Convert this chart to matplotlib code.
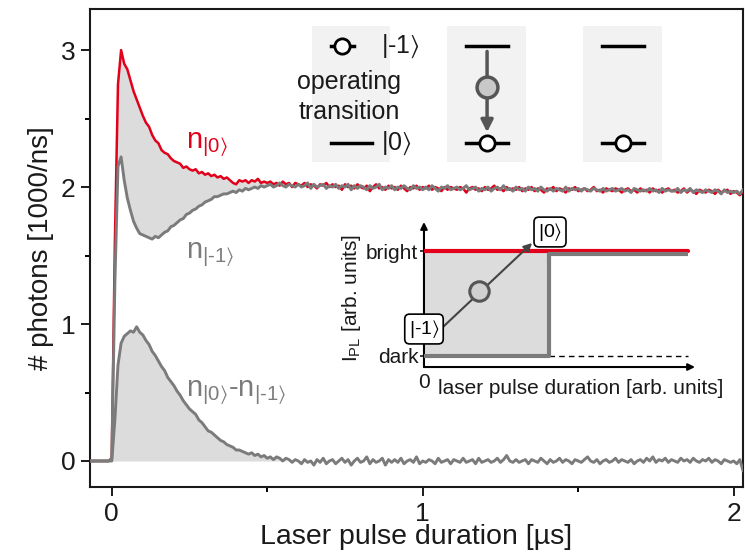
import numpy as np
import matplotlib
matplotlib.use("Agg")
import matplotlib.pyplot as plt
from matplotlib.patches import Rectangle

plt.rcParams['font.family'] = ['Liberation Sans', 'DejaVu Sans']
plt.rcParams['mathtext.fontset'] = 'custom'
plt.rcParams['mathtext.rm'] = 'Liberation Sans'
plt.rcParams['mathtext.default'] = 'regular'

# time axis, 10 ns steps from -0.07 to 2.03 us
t = np.round(np.arange(211) * 0.01 - 0.07, 2)

# photon rate after preparation in |0>  (red)
n0 = [0, 0, 0, 0, 0, 0, 0,
      0.02, 1.60, 2.75, 3.00, 2.90, 2.86, 2.78, 2.70, 2.64, 2.58,
      2.52, 2.47, 2.44, 2.38, 2.34, 2.32, 2.27, 2.25, 2.24, 2.21,
      2.19, 2.18, 2.17, 2.14, 2.15, 2.13, 2.12, 2.13, 2.10, 2.11,
      2.09, 2.10, 2.08, 2.09, 2.07, 2.08, 2.06, 2.07, 2.05, 2.03,
      2.02, 2.05, 2.04, 2.05, 2.03, 2.05, 2.04, 2.06, 2.03, 2.04, 2.03,
      2.04, 2.02, 2.03, 2.01, 2.04, 2.02, 2.03, 2.00, 2.03, 2.02,
      2.01, 2.03, 2.00, 2.02, 2.01, 1.99, 2.02, 2.01, 2.03, 2.00,
      2.02, 2.00, 2.01, 1.98, 2.02, 2.00, 2.01, 1.99, 2.02, 2.00,
      1.99, 2.01, 1.97, 2.00, 2.02, 1.99, 2.00, 1.98, 2.01, 1.99,
      2.00, 1.98, 2.01, 1.99, 1.97, 2.00, 1.99, 2.01, 1.98, 2.00,
      1.99, 2.01, 1.98, 2.00, 1.99, 1.97, 2.00, 1.98, 2.00, 1.99,
      1.98, 2.00, 1.99, 1.96, 1.99, 2.00, 1.98, 1.99, 1.97, 2.00,
      1.98, 1.99, 2.01, 1.98, 1.99, 1.97, 2.00, 1.98, 1.99, 1.98,
      2.00, 1.97, 1.99, 1.98, 2.00, 1.97, 1.99, 1.98, 1.96, 1.99,
      1.98, 2.00, 1.97, 1.99, 1.98, 1.96, 1.99, 1.98, 2.00, 1.97,
      1.98, 1.99, 1.97, 1.98, 2.00, 1.97, 1.98, 1.96, 1.99, 1.98,
      1.97, 1.99, 1.98, 1.96, 1.98, 1.99, 1.97, 1.98, 1.96, 1.99,
      1.97, 1.98, 1.96, 1.99, 1.97, 1.98, 1.96, 1.98, 1.99, 1.97,
      1.98, 1.96, 1.97, 1.99, 1.96, 1.98, 1.97, 1.95, 1.98, 1.97,
      1.96, 1.98, 1.97, 1.95, 1.98, 1.96, 1.97, 1.98, 1.95, 1.97,
      1.96, 1.94, 1.97]

# photon rate after preparation in |-1>  (grey)
n1 = [0, 0, 0, 0, 0, 0, 0,
      0.02, 1.30, 2.15, 2.22, 2.05, 1.92, 1.83, 1.75, 1.70, 1.66,
      1.65, 1.64, 1.63, 1.62, 1.64, 1.63, 1.65, 1.67, 1.68, 1.71,
      1.72, 1.74, 1.76, 1.77, 1.80, 1.81, 1.83, 1.84, 1.86, 1.87,
      1.89, 1.90, 1.91, 1.93, 1.93, 1.94, 1.95, 1.95, 1.96, 1.97,
      1.96, 1.98, 1.97, 1.99, 1.98, 1.99, 2.00, 1.99, 2.01, 2.00, 2.01,
      2.02, 2.00, 2.01, 2.03, 2.01, 2.00, 2.02, 2.01, 2.00, 2.02,
      2.00, 2.01, 2.03, 1.99, 2.02, 2.00, 2.01, 2.02, 1.99, 2.01,
      2.00, 2.02, 1.99, 2.01, 2.00, 2.02, 1.98, 2.01, 1.99, 2.01,
      2.00, 1.98, 2.01, 1.99, 2.00, 2.02, 1.98, 2.00, 1.99, 2.01,
      1.98, 2.00, 1.99, 2.01, 1.99, 1.98, 2.01, 1.99, 2.00, 1.98,
      2.00, 1.98, 2.01, 1.99, 1.97, 2.00, 1.99, 2.01, 1.98, 1.99,
      2.00, 1.98, 1.99, 2.01, 1.98, 1.99, 2.00, 1.97, 1.99, 1.98,
      2.00, 1.97, 1.99, 2.00, 1.98, 2.01, 1.98, 1.99, 1.97, 2.00,
      1.98, 1.99, 1.97, 2.00, 1.98, 1.99, 1.97, 2.00, 1.98, 1.97,
      1.99, 1.97, 1.99, 1.98, 1.97, 2.00, 1.97, 1.99, 1.98, 1.99,
      1.97, 1.99, 1.98, 1.97, 1.99, 1.98, 1.97, 1.99, 1.97, 1.98,
      1.99, 1.97, 1.98, 1.99, 1.97, 1.98, 1.96, 1.99, 1.98, 1.97,
      1.98, 1.97, 1.99, 1.97, 1.98, 1.96, 1.99, 1.97, 1.98, 1.97,
      1.97, 1.99, 1.96, 1.98, 1.97, 1.99, 1.96, 1.98, 1.97, 1.96,
      1.98, 1.97, 1.96, 1.98, 1.97, 1.95, 1.98, 1.96, 1.97, 1.96,
      1.97, 1.95, 1.98]

# difference signal n|0> - n|-1>
diff = [0, 0, 0, 0, 0, 0, 0,
        0.00, 0.30, 0.70, 0.86, 0.91, 0.93, 0.95, 0.94, 0.98, 0.94,
        0.92, 0.88, 0.85, 0.80, 0.77, 0.73, 0.69, 0.66, 0.61, 0.58,
        0.55, 0.51, 0.48, 0.44, 0.41, 0.38, 0.36, 0.34, 0.30, 0.28,
        0.25, 0.22, 0.21, 0.19, 0.17, 0.15, 0.14, 0.12, 0.11, 0.10,
        0.08, 0.08, 0.07, 0.06, 0.05, 0.06, 0.04, 0.05, 0.03, 0.04, 0.02,
        0.03, 0.01, 0.03, 0.02, 0.00, 0.02, 0.01, -0.01, 0.01, 0.00,
        -0.02, 0.01, -0.01, 0.00, -0.03, 0.01, -0.01, 0.02, -0.02, 0.00,
        0.01, -0.02, 0.00, 0.02, -0.01, 0.01, -0.03, 0.00, 0.02, -0.01,
        0.00, 0.03, -0.02, 0.01, -0.01, 0.00, 0.02, -0.03, 0.01, -0.01,
        0.01, -0.01, 0.02, -0.02, 0.00, 0.01, -0.01, 0.03, -0.02, 0.00,
        -0.01, 0.01, 0.00, -0.02, 0.02, -0.01, 0.00, 0.01, -0.02, 0.01,
        0.00, -0.01, 0.02, -0.01, 0.00, 0.01, -0.02, 0.02, -0.01, 0.00,
        0.01, -0.01, 0.00, 0.02, -0.01, 0.01, 0.04, 0.00, -0.01, 0.01,
        -0.01, 0.00, 0.01, -0.02, 0.01, 0.00, -0.01, 0.02, 0.00, -0.02,
        0.01, -0.01, 0.00, 0.02, -0.01, 0.01, 0.00, -0.02, 0.01, 0.00,
        -0.01, 0.01, 0.03, 0.00, -0.01, 0.01, -0.02, 0.00, 0.01, -0.01,
        0.00, 0.02, -0.01, 0.01, 0.00, -0.01, 0.01, -0.02, 0.00, 0.01,
        -0.01, 0.02, 0.00, 0.03, -0.01, 0.01, 0.00, 0.02, -0.01, 0.01,
        0.00, -0.01, 0.02, 0.00, 0.01, -0.01, 0.02, 0.00, -0.01, 0.01,
        0.00, 0.02, -0.01, 0.01, 0.00, -0.02, 0.01, 0.00, -0.01, 0.00,
        -0.02, 0.01, -0.07]

n0 = np.array(n0)
n1 = np.array(n1)
diff = np.array(diff)

# schematic inset: PL level vs. time (arb. units)
inset_levels = [0.078, 0.80]
inset_level_names = ['dark', 'bright']
inset_switch = 0.461
inset_end = 0.974

RED = '#e2001a'
GREY = '#7b7b7b'
FILL = '#dcdcdc'
PANEL = '#f2f2f2'
TXT = '#1a1a1a'

fig = plt.figure(figsize=(7.45, 5.55), dpi=100)
ax = fig.add_axes([0.1208, 0.1225, 0.8765, 0.8613])

# shaded areas
sel = (t >= 0) & (t <= 0.5)
ax.fill_between(t[sel], n1[sel], n0[sel], color=FILL, lw=0, zorder=1)
sel = (t >= 0) & (t <= 0.56)
ax.fill_between(t[sel], 0, np.clip(diff[sel], 0, None), color=FILL, lw=0, zorder=1)

ax.plot(t, n0, color=RED, lw=1.8, zorder=3)
ax.plot(t, n1, color=GREY, lw=2.1, zorder=4)
ax.plot(t, diff, color=GREY, lw=2.1, zorder=4)

ax.set_xlim(-0.07, 2.03)
ax.set_ylim(-0.19, 3.30)
ax.set_xticks([0, 1, 2])
ax.set_xticks([0.5, 1.5], minor=True)
ax.set_yticks([0, 1, 2, 3])
ax.set_yticks([0.5, 1.5, 2.5], minor=True)
ax.tick_params(which='major', direction='out', length=6.5, width=1.4,
               labelsize=19, pad=4, colors=TXT)
ax.tick_params(which='minor', direction='out', length=3.5, width=1.4)
for s in ax.spines.values():
    s.set_linewidth(1.5)
    s.set_color(TXT)
ax.set_xlabel('Laser pulse duration [µs]', fontsize=20.5, color=TXT, labelpad=-1)
ax.set_ylabel('# photons [1000/ns]', fontsize=20, color=TXT, labelpad=5)

# curve labels
ax.text(0.238, 2.28, r'n$_{|0\rangle}$', color=RED, fontsize=21)
ax.text(0.238, 1.48, r'n$_{|\text{-}1\rangle}$', color=GREY, fontsize=21)
ax.text(0.238, 0.475, r'n$_{|0\rangle}$-n$_{|\text{-}1\rangle}$', color=GREY, fontsize=21)

# level-scheme legend at the top
panels_x = [(0.645, 0.896), (1.079, 1.332), (1.515, 1.769)]
for x0, x1 in panels_x:
    ax.add_patch(Rectangle((x0, 2.18), x1 - x0, 3.175 - 2.18, color=PANEL, lw=0, zorder=2))

top_lvl, bot_lvl = 3.03, 2.32
kw_open = dict(marker='o', ms=11, mfc='white', mec='black', mew=2, zorder=6)

ax.plot([0.706, 0.780], [top_lvl, top_lvl], color='black', lw=2.5, zorder=5)
ax.plot([0.742], [top_lvl], **kw_open)
ax.text(0.867, top_lvl, r'|-1$\rangle$', fontsize=18, color=TXT, va='center', zorder=6)
ax.plot([0.706, 0.838], [bot_lvl, bot_lvl], color='black', lw=2.5, zorder=5)
ax.text(0.867, bot_lvl, r'|0$\rangle$', fontsize=18, color=TXT, va='center', zorder=6)
ax.text(0.764, 2.765, 'operating', fontsize=18, color=TXT, ha='center', va='center', zorder=6)
ax.text(0.764, 2.545, 'transition', fontsize=18, color=TXT, ha='center', va='center', zorder=6)

for xc in [1.207, 1.644]:
    ax.plot([xc - 0.067, xc + 0.067], [top_lvl, top_lvl], color='black', lw=2.5, zorder=5)
    ax.plot([xc - 0.067, xc + 0.067], [bot_lvl, bot_lvl], color='black', lw=2.5, zorder=5)
    ax.plot([xc], [bot_lvl], **kw_open)

ax.annotate('', xy=(1.207, 2.40), xytext=(1.207, 2.99),
            arrowprops=dict(arrowstyle='-|>', color='#555555', lw=2.5, mutation_scale=18,
                            shrinkA=0, shrinkB=0), zorder=5)
ax.plot([1.207], [2.73], marker='o', ms=15, mfc='#c8c8c8', mec='#555555', mew=2.5, zorder=6)

# schematic inset
ins = fig.add_axes([0.5691, 0.3387, 0.3638, 0.2613])
ins.set_xlim(0, 1)
ins.set_ylim(0, 1)
ins.patch.set_alpha(0)
for s in ins.spines.values():
    s.set_visible(False)
ins.annotate('', xy=(0, 1.0), xytext=(0, 0), xycoords='axes fraction',
             arrowprops=dict(arrowstyle='-|>', color='black', lw=1.5, mutation_scale=10,
                             shrinkA=0, shrinkB=0))
ins.annotate('', xy=(1.0, 0), xytext=(0, 0), xycoords='axes fraction',
             arrowprops=dict(arrowstyle='-|>', color='black', lw=1.5, mutation_scale=10,
                             shrinkA=0, shrinkB=0))
ins.set_yticks(inset_levels)
ins.set_yticklabels(inset_level_names)
ins.set_xticks([])
ins.tick_params(axis='y', direction='out', length=3, width=1.2, labelsize=15, pad=1, colors=TXT)

dark, bright = inset_levels
ins.fill_between([0, inset_switch], dark, bright, color=FILL, lw=0, zorder=1)
ins.plot([0, inset_end], [bright, bright], color=RED, lw=3, solid_capstyle='round', zorder=3)
ins.plot([0, inset_switch, inset_switch, inset_end], [dark, dark, bright - 0.018, bright - 0.018],
         color=GREY, lw=3, solid_capstyle='butt', zorder=4)
ins.plot([inset_switch, inset_end], [dark, dark], color='black', lw=1, ls=(0, (4, 3)), zorder=2)
ins.annotate('', xy=(0.399, 0.855), xytext=(0.07, 0.276),
             arrowprops=dict(arrowstyle='-|>', color='#444444', lw=1.5, mutation_scale=12,
                             shrinkA=0, shrinkB=0), zorder=5)
ins.plot([0.203], [0.524], marker='o', ms=14, mfc='#d0d0d0', mec='#555555', mew=2.2, zorder=6)
box = dict(boxstyle='round,pad=0.2,rounding_size=0.25', fc='white', ec='black', lw=1.2)
ins.text(0.0, 0.262, r'|-1$\rangle$', fontsize=14, ha='center', va='center', bbox=box, zorder=7)
ins.text(0.465, 0.931, r'|0$\rangle$', fontsize=14, ha='center', va='center', bbox=box, zorder=7)
ins.text(0.0, -0.11, '0', fontsize=15, ha='center', va='center', color=TXT)
ins.text(0.052, -0.145, 'laser pulse duration [arb. units]', fontsize=15, ha='left', va='center', color=TXT)
ins.text(-0.269, 0.476, r'I$_{PL}$ [arb. units]', fontsize=15, rotation=90,
         ha='center', va='center', color=TXT)

fig.savefig('out.png', dpi=100)
